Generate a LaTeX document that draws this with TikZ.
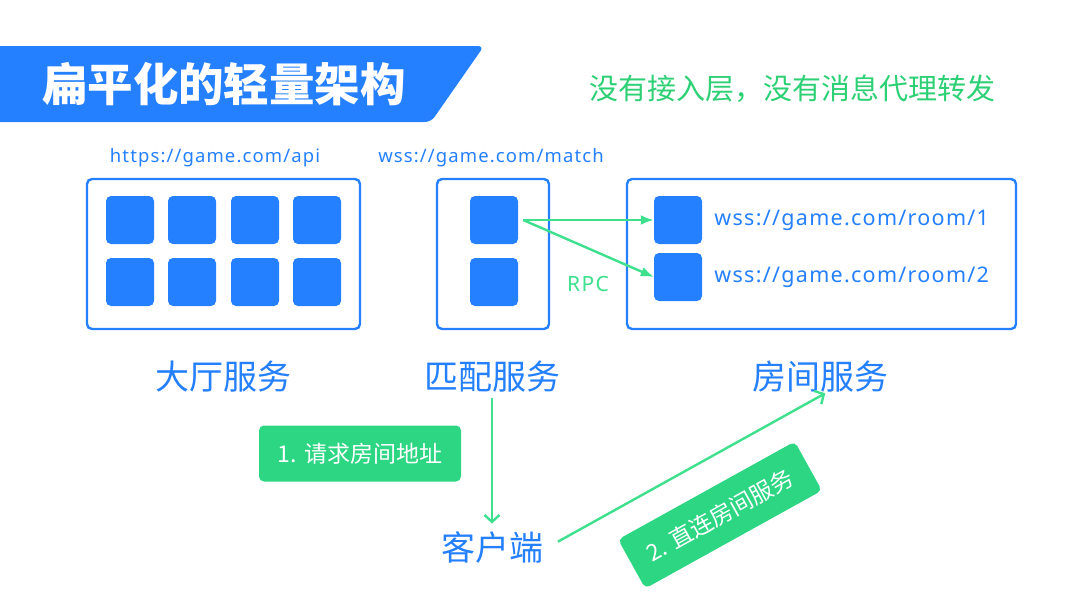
\documentclass[tikz,border=0pt]{standalone}
\usepackage{fontspec}
\setmainfont{Noto Sans CJK SC}
\newfontfamily\urlfont{Noto Sans}[LetterSpace=6]
\usetikzlibrary{arrows.meta,positioning}

\definecolor{mainblue}{RGB}{36,128,255}
\definecolor{tagfill}{RGB}{45,214,131}
\definecolor{flowgreen}{RGB}{62,224,142}
\definecolor{notegreen}{RGB}{46,208,118}

\begin{document}
\begin{tikzpicture}[
    x=1pt, y=-1pt,
    svcbox/.style={
      draw=mainblue, line width=2.4pt, rounded corners=5pt,
      inner sep=0pt,
    },
    cell/.style={
      fill=mainblue, rounded corners=5pt, minimum size=48pt, inner sep=0pt,
    },
    svclbl/.style={
      text=mainblue, font=\fontsize{34}{38}\selectfont,
    },
    urltext/.style={
      text=mainblue, inner sep=0pt, font=\urlfont\fontsize{18.5}{22}\selectfont,
    },
    roomurl/.style={
      text=mainblue, inner sep=0pt, font=\urlfont\fontsize{21.5}{25}\selectfont,
    },
    tag/.style={
      fill=tagfill, rounded corners=5pt, text=white,
      minimum width=202pt, minimum height=56pt,
      font=\fontsize{23}{27}\selectfont,
    },
    rpc/.style={-{Latex[length=13pt,width=10pt]}, line width=2.4pt, draw=flowgreen},
    flow/.style={-{Straight Barb[length=7pt,width=15pt]}, line width=2.4pt, draw=flowgreen},
  ]
    \useasboundingbox (0,0) rectangle (1080,608);

    % ===== Title banner =====
    \fill[mainblue, rounded corners=6pt]
      (-20,46) -- (484,46) -- (431,122) -- (-20,122) -- cycle;
    \node[text=white, font=\bfseries\fontsize{45.5}{50}\selectfont] (title) at (224,84)
      {扁平化的轻量架构};
    \node[text=notegreen, font=\fontsize{29}{34}\selectfont] (note) at (792,89)
      {没有接入层，没有消息代理转发};

    % ===== Service frames =====
    \node[svcbox, minimum width=273pt, minimum height=150pt] (lobby) at (223.5,254) {};
    \node[svcbox, minimum width=112pt, minimum height=150pt] (match) at (493,254) {};
    \node[svcbox, minimum width=389pt, minimum height=150pt] (room) at (821.5,254) {};

    \node[urltext] (lobbyurl) at (215,158) {https://game.com/api};
    \node[urltext] (matchurl) at (491,158) {wss://game.com/match};

    % ===== Lobby cells =====
    \node[cell] (l1) at (130,220) {};
    \node[cell] (l2) at (192,220) {};
    \node[cell] (l3) at (255,220) {};
    \node[cell] (l4) at (317,220) {};
    \node[cell] (l5) at (130,282) {};
    \node[cell] (l6) at (192,282) {};
    \node[cell] (l7) at (255,282) {};
    \node[cell] (l8) at (317,282) {};

    % ===== Match cells =====
    \node[cell] (m1) at (494,220) {};
    \node[cell] (m2) at (494,282) {};

    % ===== Room cells =====
    \node[cell] (r1) at (678,220) {};
    \node[cell] (r2) at (678,277) {};
    \node[roomurl, right=12pt of r1] (r1url) {wss://game.com/room/1};
    \node[roomurl, right=12pt of r2] (r2url) {wss://game.com/room/2};

    % ===== RPC edges =====
    \draw[rpc] ([xshift=5pt]m1.east) -- (r1.west);
    \draw[rpc] ([xshift=5pt]m1.east) -- (r2.west);
    \node[text=flowgreen, font=\urlfont\fontsize{21}{25}\selectfont] (rpclbl) at (588,284) {RPC};

    % ===== Service labels =====
    \node[svclbl] (lobbylbl) at (223,377) {大厅服务};
    \node[svclbl] (matchlbl) at (492,377) {匹配服务};
    \node[svclbl] (roomlbl) at (820,377) {房间服务};
    \node[svclbl] (client) at (492,548) {客户端};

    % ===== Client flow =====
    \draw[flow, shorten <=2pt, shorten >=5pt] (matchlbl.south) -- (client.north);
    \draw[flow, shorten <=13pt, shorten >=-6pt] (client.east) -- (roomlbl.south);

    \node[tag] (step1) at (360,453.5) {1. 请求房间地址};
    \node[tag, rotate=29] (step2) at (720,515) {2. 直连房间服务};

  \end{tikzpicture}
\end{document}
